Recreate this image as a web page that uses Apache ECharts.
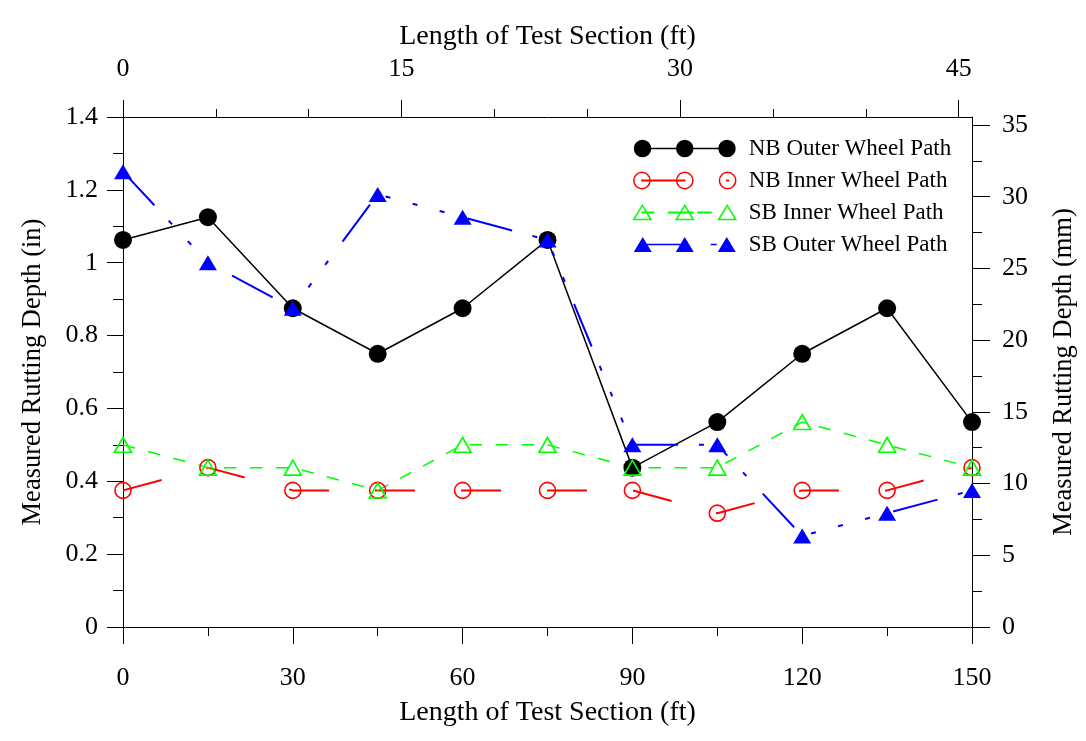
<!DOCTYPE html>
<html>
<head>
<meta charset="utf-8">
<script src="https://cdn.jsdelivr.net/npm/echarts@6/dist/echarts.min.js"></script>
<style>html,body{margin:0;padding:0;background:#fff;}#chart{width:1086px;height:741px;}</style>
</head>
<body>
<div id="chart"></div>
<script>
// ---- data (inches) ----
const stations = [0, 15, 30, 45, 60, 75, 90, 105, 120, 135, 150];
const nbOuter = [1.0625, 1.125, 0.875, 0.75, 0.875, 1.0625, 0.4375, 0.5625, 0.75, 0.875, 0.5625];
const nbInner = [0.375, 0.4375, 0.375, 0.375, 0.375, 0.375, 0.375, 0.3125, 0.375, 0.375, 0.4375];
const sbInner = [0.5, 0.4375, 0.4375, 0.375, 0.5, 0.5, 0.4375, 0.4375, 0.5625, 0.5, 0.4375];
const sbOuter = [1.25, 1.0, 0.875, 1.1875, 1.125, 1.0625, 0.5, 0.5, 0.25, 0.3125, 0.375];
const seriesNames = ['NB Outer Wheel Path', 'NB Inner Wheel Path', 'SB Inner Wheel Path', 'SB Outer Wheel Path'];

// ---- axis ranges and tick labels ----
const bottomMax = 150;          // ft
const topMax = 45.72;           // same length, secondary scale
const topTicks = [0, 15, 30, 45];
const topMinorTicks = [5, 10, 20, 25, 35, 40];
const leftMax = 1.4;            // in
const rightMax = 35.56;         // mm
const rightTicks = [0, 5, 10, 15, 20, 25, 30, 35];
const rightMinorTicks = [2.5, 7.5, 12.5, 17.5, 22.5, 27.5, 32.5];

const FONT = 'Liberation Serif';
const pairs = arr => stations.map((x, i) => [x, arr[i]]);

// legend icons (three markers joined by a line)
function circ(cx, cy, r) {
  return `M${cx - r} ${cy} A${r} ${r} 0 1 1 ${cx + r} ${cy} A${r} ${r} 0 1 1 ${cx - r} ${cy} Z `;
}
function tri(cx, top, w, h) {
  return `M${cx} ${top} L${cx + w / 2} ${top + h} L${cx - w / 2} ${top + h} Z `;
}
function bar(x1, x2, y, t) {
  return `M${x1} ${y - t / 2} L${x2} ${y - t / 2} L${x2} ${y + t / 2} L${x1} ${y + t / 2} Z `;
}
const iconBlack = 'path://' + circ(9, 9, 8.7) + circ(51, 9, 8.7) + circ(93, 9, 8.7) + bar(9, 93, 9, 1.3);
const iconRed = 'path://' + circ(9, 9, 8) + circ(51, 9, 8) + circ(93, 9, 8) + bar(9, 51, 9, 0.3) + bar(92.3, 93.7, 9, 0.3);
const iconGreen = 'path://' + tri(9, 2, 17, 14) + tri(51, 2, 17, 14) + tri(93, 2, 17, 14) +
  bar(9, 20, 9, 0.3) + bar(35, 59, 9, 0.3) + bar(64, 77, 9, 0.3);
const iconBlue = 'path://' + tri(9, 1.5, 18, 15) + tri(51, 1.5, 18, 15) + tri(93, 1.5, 18, 15) +
  bar(9, 51, 9, 1.5) + bar(77, 83, 9, 1.5);

const labelStyle = { color: '#000', fontFamily: FONT, fontSize: 26 };
const hNameStyle = { color: '#000', fontFamily: FONT, fontSize: 28 };
const vNameStyle = { color: '#000', fontFamily: FONT, fontSize: 26.5 };
const lineBlack = { show: true, onZero: false, lineStyle: { color: '#000', width: 1 } };
const noLine = { show: false, onZero: false };

const chart = echarts.init(document.getElementById('chart'), null, { renderer: 'canvas' });
chart.setOption({
  animation: false,
  backgroundColor: '#fff',
  grid: { left: 123, right: 111, top: 117, bottom: 114, containLabel: false },
  legend: {
    orient: 'vertical',
    left: 628,
    top: 132,
    itemWidth: 102,
    itemHeight: 18,
    itemGap: 9,
    symbolKeepAspect: true,
    textStyle: { color: '#000', fontFamily: FONT, fontSize: 23, lineHeight: 22, padding: [0, 0, 0, 8] },
    data: [
      { name: seriesNames[0], icon: iconBlack, itemStyle: { color: '#000', borderWidth: 0 } },
      { name: seriesNames[1], icon: iconRed, itemStyle: { color: 'rgba(0,0,0,0)', borderColor: '#ff0000', borderWidth: 1.5 } },
      { name: seriesNames[2], icon: iconGreen, itemStyle: { color: 'rgba(0,0,0,0)', borderColor: '#00ff00', borderWidth: 1.5 } },
      { name: seriesNames[3], icon: iconBlue, itemStyle: { color: '#0000ff', borderWidth: 0 } }
    ]
  },
  xAxis: [
    {
      type: 'value', position: 'bottom', min: 0, max: bottomMax, interval: 30,
      name: 'Length of Test Section (ft)', nameLocation: 'middle', nameGap: 72, nameTextStyle: hNameStyle,
      axisLine: lineBlack,
      axisTick: { show: true, inside: false, length: 17, lineStyle: { color: '#000' } },
      minorTick: { show: true, splitNumber: 2, length: 9, lineStyle: { color: '#000' } },
      axisLabel: Object.assign({ margin: 38 }, labelStyle),
      splitLine: { show: false }
    },
    {
      type: 'value', position: 'top', min: 0, max: topMax, interval: 15,
      name: 'Length of Test Section (ft)', nameLocation: 'middle', nameGap: 65, nameTextStyle: hNameStyle,
      axisLine: lineBlack,
      axisTick: { show: true, inside: false, length: 17, customValues: topTicks, lineStyle: { color: '#000' } },
      axisLabel: Object.assign({ margin: 35, customValues: topTicks }, labelStyle),
      splitLine: { show: false }
    },
    {
      type: 'value', position: 'top', offset: 0, min: 0, max: topMax,
      axisLine: noLine,
      axisTick: { show: true, inside: false, length: 8, customValues: topMinorTicks, lineStyle: { color: '#000' } },
      axisLabel: { show: false },
      splitLine: { show: false }
    }
  ],
  yAxis: [
    {
      type: 'value', position: 'left', min: 0, max: leftMax, interval: 0.2,
      name: 'Measured Rutting Depth (in)', nameLocation: 'middle', nameGap: 76, nameTextStyle: vNameStyle,
      axisLine: lineBlack,
      axisTick: { show: true, inside: false, length: 16, lineStyle: { color: '#000' } },
      minorTick: { show: true, splitNumber: 2, length: 10, lineStyle: { color: '#000' } },
      axisLabel: Object.assign({ margin: 25 }, labelStyle),
      splitLine: { show: false }
    },
    {
      type: 'value', position: 'right', min: 0, max: rightMax, interval: 5,
      name: 'Measured Rutting Depth (mm)', nameLocation: 'middle', nameGap: 79, nameTextStyle: vNameStyle,
      axisLine: lineBlack,
      axisTick: { show: true, inside: false, length: 18, customValues: rightTicks, lineStyle: { color: '#000' } },
      axisLabel: Object.assign({ margin: 30, customValues: rightTicks }, labelStyle),
      splitLine: { show: false }
    },
    {
      type: 'value', position: 'right', offset: 0, min: 0, max: rightMax,
      axisLine: noLine,
      axisTick: { show: true, inside: false, length: 10, customValues: rightMinorTicks, lineStyle: { color: '#000' } },
      axisLabel: { show: false },
      splitLine: { show: false }
    }
  ],
  series: [
    {
      name: seriesNames[0], type: 'line', xAxisIndex: 0, yAxisIndex: 0,
      data: pairs(nbOuter),
      symbol: 'circle', symbolSize: 18, showSymbol: true,
      itemStyle: { color: '#000' },
      lineStyle: { color: '#000', width: 1.5, type: 'solid' }
    },
    {
      name: seriesNames[1], type: 'line', xAxisIndex: 0, yAxisIndex: 0,
      data: pairs(nbInner),
      symbol: 'circle', symbolSize: 16, showSymbol: true,
      itemStyle: { color: 'rgba(0,0,0,0)', borderColor: '#ff0000', borderWidth: 1.6 },
      lineStyle: { color: '#ff0000', width: 2, type: [40, 46] }
    },
    {
      name: seriesNames[2], type: 'line', xAxisIndex: 0, yAxisIndex: 0,
      data: pairs(sbInner),
      symbol: 'triangle', symbolSize: [17, 15], showSymbol: true,
      itemStyle: { color: 'rgba(0,0,0,0)', borderColor: '#00ff00', borderWidth: 1.6 },
      lineStyle: { color: '#00ff00', width: 1.5, type: [12.5, 13.5] }
    },
    {
      name: seriesNames[3], type: 'line', xAxisIndex: 0, yAxisIndex: 0,
      data: pairs(sbOuter),
      symbol: 'triangle', symbolSize: [18, 15], showSymbol: true,
      itemStyle: { color: '#0000ff' },
      lineStyle: { color: '#0000ff', width: 2, type: [46, 21, 5, 23, 5, 23, 5, 24] }
    }
  ]
});
</script>
</body>
</html>
